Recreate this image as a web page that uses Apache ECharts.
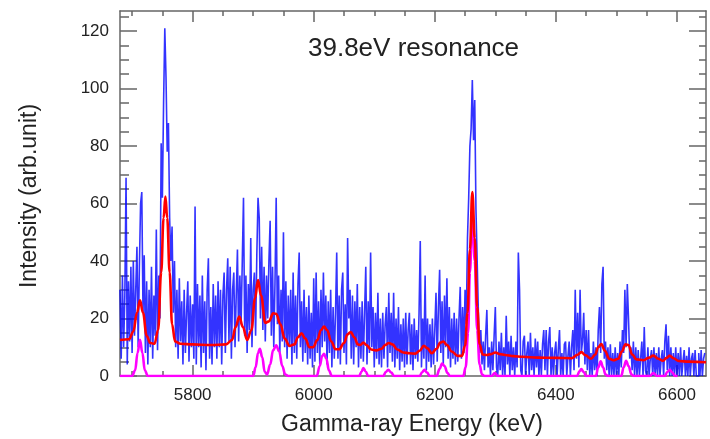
<!DOCTYPE html>
<html>
<head>
<meta charset="utf-8">
<script src="https://cdn.jsdelivr.net/npm/echarts@6/dist/echarts.min.js"></script>
<style>
  html, body { margin: 0; padding: 0; background: #fff; }
  #chart { width: 710px; height: 439px; }
</style>
</head>
<body>
<div id="chart"></div>
<script>
// Measured gamma-ray spectrum: counts in 2 keV bins starting at binStart
const binStart = 5680;
const binWidth = 2;
const counts = [
  30, 6, 35, 10, 28, 69, 4, 33, 12, 38, 8, 40, 14, 30, 45, 10, 38, 60, 64, 22,
  42, 8, 33, 4, 30, 10, 38, 6, 28, 14, 51, 9, 35, 20, 81, 62, 95, 121, 104, 78,
  88, 55, 40, 52, 22, 40, 10, 30, 6, 34, 12, 26, 4, 30, 8, 22, 33, 5, 28, 10,
  25, 6, 59, 4, 32, 10, 28, 3, 35, 8, 26, 2, 30, 41, 6, 24, 4, 32, 10, 28,
  6, 33, 10, 30, 4, 28, 36, 8, 30, 41, 12, 38, 6, 30, 36, 10, 28, 44, 12, 35,
  18, 40, 62, 14, 35, 8, 32, 16, 48, 10, 30, 36, 14, 42, 62, 55, 20, 45, 16, 38,
  12, 35, 20, 40, 54, 14, 38, 10, 32, 62, 18, 35, 8, 30, 12, 50, 10, 33, 6, 28,
  10, 30, 4, 36, 8, 28, 6, 32, 43, 10, 26, 5, 30, 8, 24, 4, 28, 6, 22, 3,
  34, 5, 36, 8, 26, 4, 30, 10, 36, 12, 28, 4, 26, 8, 30, 3, 24, 6, 22, 43,
  6, 28, 4, 30, 36, 8, 25, 4, 48, 20, 30, 6, 28, 4, 26, 10, 32, 3, 24, 6,
  26, 5, 22, 38, 4, 26, 8, 43, 10, 24, 3, 22, 6, 29, 4, 20, 3, 22, 6, 18,
  24, 3, 29, 8, 22, 5, 29, 3, 20, 6, 24, 2, 18, 5, 20, 3, 22, 4, 16, 22,
  4, 18, 2, 20, 6, 16, 5, 22, 47, 3, 20, 6, 35, 2, 20, 5, 18, 3, 20, 4,
  16, 29, 5, 24, 37, 8, 26, 4, 28, 10, 34, 6, 24, 3, 20, 6, 22, 4, 20, 5,
  20, 31, 6, 24, 8, 30, 18, 48, 62, 80, 86, 103, 82, 96, 58, 40, 22, 8, 16, 4,
  12, 2, 14, 23, 3, 10, 0, 12, 2, 14, 24, 3, 0, 12, 2, 15, 0, 10, 0, 21,
  4, 12, 0, 14, 2, 10, 0, 12, 3, 43, 30, 2, 0, 12, 14, 0, 8, 12, 0, 15,
  2, 10, 0, 13, 3, 12, 0, 9, 0, 11, 16, 2, 16, 0, 12, 17, 0, 10, 0, 8,
  12, 0, 9, 16, 0, 8, 0, 11, 12, 0, 7, 12, 0, 10, 16, 2, 30, 6, 22, 3,
  30, 8, 12, 22, 4, 16, 2, 16, 0, 8, 0, 12, 2, 10, 0, 16, 24, 8, 32, 38,
  6, 12, 2, 10, 0, 11, 0, 8, 0, 10, 0, 8, 0, 12, 3, 16, 8, 30, 10, 32,
  20, 6, 10, 2, 12, 0, 10, 0, 9, 0, 6, 12, 0, 17, 2, 0, 10, 0, 6, 9,
  0, 10, 0, 8, 0, 10, 0, 6, 9, 0, 12, 18, 2, 14, 0, 10, 0, 8, 0, 10,
  0, 8, 0, 10, 0, 5, 9, 0, 7, 0, 10, 0, 6, 8, 0, 9, 0, 0, 8, 0,
  9, 0, 6, 8
];

// Total fit (background + peaks), sampled along the energy axis
const fitEnergy = [
  5680, 5695, 5702, 5708, 5713, 5718, 5724, 5730, 5737, 5743, 5748, 5752, 5755, 5758, 5762, 5766, 5771, 5780,
  5800, 5830, 5855, 5865, 5871, 5877, 5883, 5890, 5897, 5903, 5908, 5913, 5920, 5926, 5933, 5938, 5945, 5952,
  5960, 5968, 5974, 5980, 5986, 5993, 5999, 6006, 6012, 6017, 6022, 6029, 6036, 6042, 6050, 6056, 6061, 6067,
  6073, 6077, 6082, 6087, 6095, 6103, 6112, 6118, 6124, 6130, 6138, 6148, 6158, 6168, 6175, 6182, 6188, 6195,
  6203, 6209, 6214, 6220, 6228, 6238, 6245, 6250, 6254, 6258, 6262, 6266, 6270, 6274, 6279, 6286, 6293, 6300,
  6308, 6316, 6330, 6345, 6370, 6400, 6426, 6436, 6442, 6449, 6458, 6465, 6470, 6475, 6481, 6488, 6495, 6503,
  6509, 6515, 6520, 6526, 6533, 6545, 6553, 6561, 6569, 6577, 6583, 6588, 6594, 6603, 6620, 6648
];
const fitValue = [
  12.5, 12.8, 15.5, 22, 26.3, 22, 14, 11.5, 11.2, 16, 36, 55, 62.4, 55, 36, 18, 12, 11.2,
  11, 10.8, 11, 12.5, 17, 20.7, 17, 12.5, 16, 27, 33.4, 28, 18.5, 19, 21.8, 21.6, 18, 13,
  10.5, 11, 13.5, 14.9, 13, 10, 10, 12.5, 16, 17.2, 16, 12, 9.3, 9.3, 11.5, 14.5, 15.3, 13.5,
  11, 10.8, 11.6, 10.8, 9.2, 8.9, 9.5, 10.8, 11.5, 11, 9.2, 8.2, 7.9, 7.8, 8.8, 10.5, 9.6, 7.9,
  9.5, 11.6, 12, 10.8, 8.5, 7, 7, 10.5, 22, 44, 64, 48, 24, 11, 7.5, 7.3, 7.6, 8.2,
  7.6, 7.3, 6.9, 6.7, 6.4, 6.3, 6.2, 7.4, 8.3, 7.2, 6, 7.5, 10, 11.1, 8.8, 6, 5.5, 6,
  8.5, 11, 10.8, 7.5, 5.8, 5.5, 6.3, 7.1, 6, 5.3, 6.3, 7.1, 6.2, 5.2, 5, 4.8
];

// Individual peak components
const peakEnergy = [
  5680, 5700, 5705, 5709, 5713, 5717, 5721, 5726, 5900, 5904, 5908, 5911, 5915, 5919, 5923, 5928, 5933, 5938,
  5943, 5948, 5953, 5958, 6005, 6010, 6014, 6017, 6021, 6025, 6030, 6075, 6079, 6082, 6086, 6090, 6115, 6119,
  6123, 6128, 6133, 6175, 6179, 6183, 6187, 6192, 6203, 6208, 6212, 6216, 6221, 6225, 6247, 6251, 6255, 6258,
  6262, 6266, 6270, 6274, 6278, 6282, 6294, 6299, 6304, 6435, 6439, 6442, 6446, 6450, 6466, 6470, 6474, 6478,
  6482, 6486, 6508, 6512, 6516, 6520, 6525, 6529, 6555, 6561, 6567, 6580, 6584, 6588, 6592, 6597, 6601
];
const peakValue = [
  0, 0, 2, 8, 12.6, 8, 2, 0, 0, 3, 8, 9.5, 6.5, 1.5, 0.5, 4, 9, 10.7,
  8.5, 3.5, 0.5, 0, 0, 3.5, 7, 7.7, 6, 2, 0, 0, 1.5, 2.8, 1.5, 0, 0, 1.4,
  2.2, 1.2, 0, 0, 1.3, 2.2, 1.2, 0, 0, 2.5, 4.3, 3.5, 1, 0, 0, 3, 15, 36,
  57, 40, 16, 4, 0.5, 0, 0, 1, 0, 0, 1.6, 2.4, 1.4, 0, 0, 3, 5.1, 3,
  0.5, 0, 0, 3, 5.3, 3.5, 0.5, 0, 0, 1, 0, 0, 1.4, 2.2, 1.3, 0, 0
];

const xMajor = [5800, 6000, 6200, 6400, 6600];
const xMinor = [5700, 5750, 5850, 5900, 5950, 6050, 6100, 6150, 6250, 6300, 6350, 6450, 6500, 6550, 6650];
const yMajor = [0, 20, 40, 60, 80, 100, 120];
const yMinor = [5, 10, 15, 25, 30, 35, 45, 50, 55, 65, 70, 75, 85, 90, 95, 105, 110, 115, 125];

const FONT = '"Liberation Sans", Arial, Helvetica, sans-serif';
const X_MIN = 5680, X_MAX = 6648, Y_MIN = 0, Y_MAX = 127;
const frameColor = '#666';

function axisDef(position, min, max, ticks, len, showLabels, showLine) {
  return {
    type: 'value', position: position, min: min, max: max,
    axisLine: { show: showLine, onZero: false, lineStyle: { color: frameColor, width: 1.5 } },
    axisTick: { show: true, inside: true, length: len, customValues: ticks,
                lineStyle: { color: frameColor, width: 1.5 } },
    axisLabel: { show: showLabels, customValues: ticks, margin: 11,
                 formatter: (v) => String(v),
                 color: '#222', fontFamily: FONT, fontSize: 17 },
    splitLine: { show: false }
  };
}

const spectrum = counts.map((c, i) => [binStart + i * binWidth, c]);
const fitLine = fitEnergy.map((e, i) => [e, fitValue[i]]);
const peakLine = peakEnergy.map((e, i) => [e, peakValue[i]]);

const chart = echarts.init(document.getElementById('chart'), null, { renderer: 'canvas' });
chart.setOption({
  animation: false,
  backgroundColor: '#fff',
  grid: { left: 120, right: 4, top: 11, bottom: 63 },
  xAxis: [
    axisDef('bottom', X_MIN, X_MAX, xMajor, 11, true, true),
    axisDef('bottom', X_MIN, X_MAX, xMinor, 5, false, false),
    axisDef('top', X_MIN, X_MAX, xMajor, 11, false, true),
    axisDef('top', X_MIN, X_MAX, xMinor, 5, false, false)
  ],
  yAxis: [
    axisDef('left', Y_MIN, Y_MAX, yMajor, 17, true, true),
    axisDef('left', Y_MIN, Y_MAX, yMinor, 9, false, false),
    axisDef('right', Y_MIN, Y_MAX, yMajor, 17, false, true),
    axisDef('right', Y_MIN, Y_MAX, yMinor, 7, false, false)
  ],
  series: [
    {
      name: 'spectrum', type: 'line', step: 'end', data: spectrum,
      xAxisIndex: 0, yAxisIndex: 0, showSymbol: false, clip: true,
      lineStyle: { color: 'rgba(0,0,255,0.8)', width: 1.6 }, z: 2
    },
    {
      name: 'peaks', type: 'line', data: peakLine, smooth: 0.4, smoothMonotone: 'x',
      xAxisIndex: 0, yAxisIndex: 0, showSymbol: false, clip: true,
      lineStyle: { color: '#ff00ff', width: 2.6 }, z: 3
    },
    {
      name: 'fit', type: 'line', data: fitLine, smooth: 0.4, smoothMonotone: 'x',
      xAxisIndex: 0, yAxisIndex: 0, showSymbol: false, clip: true,
      lineStyle: { color: '#ff0000', width: 2.6 }, z: 4
    }
  ],
  graphic: [
    { type: 'text', left: 308, top: 36, z: 10,
      style: { text: '39.8eV resonance', font: '26px ' + FONT, fill: '#222' } },
    { type: 'text', x: 30, y: 196, rotation: Math.PI / 2, z: 10,
      style: { text: 'Intensity (arb.unit)', font: '23px ' + FONT, fill: '#222',
               align: 'center', verticalAlign: 'middle' } },
    { type: 'text', x: 412, y: 425, z: 10,
      style: { text: 'Gamma-ray Energy (keV)', font: '23px ' + FONT, fill: '#222',
               align: 'center', verticalAlign: 'middle' } }
  ]
});
</script>
</body>
</html>
